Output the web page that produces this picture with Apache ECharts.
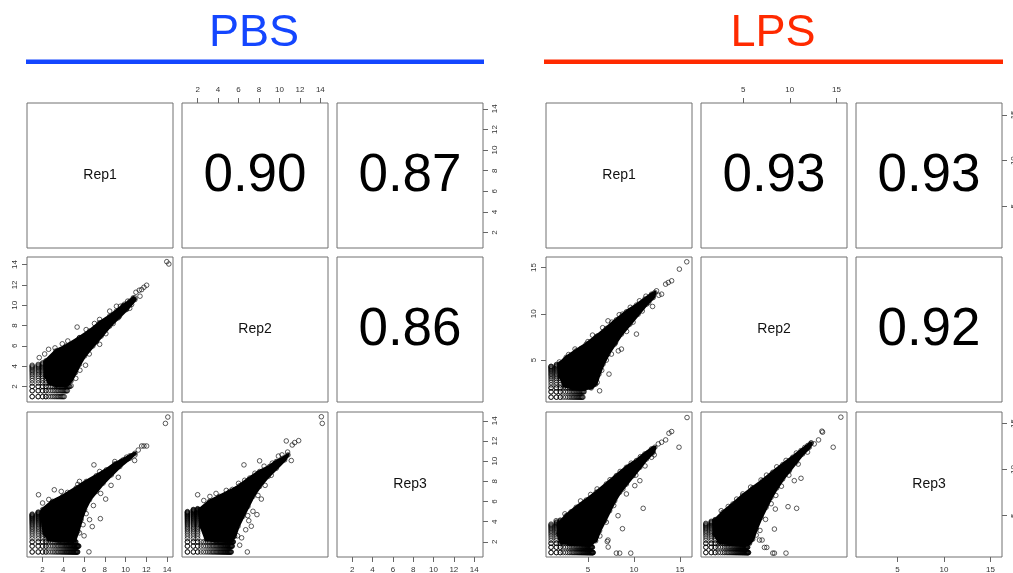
<!DOCTYPE html>
<html><head><meta charset="utf-8">
<script src="https://cdn.jsdelivr.net/npm/echarts@6/dist/echarts.min.js"></script>
<style>html,body{margin:0;padding:0;background:#fff}#c{width:1013px;height:573px}</style>
</head><body><div id="c"></div>
<script>
// ---------- data ----------
const replicateNames = ['Rep1', 'Rep2', 'Rep3'];
const groupNames = ['PBS', 'LPS'];
// correlations: (Rep1,Rep2), (Rep1,Rep3), (Rep2,Rep3)
const pbsCorrelations = [0.90, 0.87, 0.86];
const lpsCorrelations = [0.93, 0.93, 0.92];
// axis ranges of each replicate (Rep1, Rep2, Rep3)
const pbsAxisRanges = [[0.5, 14.57], [0.47, 14.75], [0.5, 14.87]];
const lpsAxisRanges = [[0.45, 16.3], [0.48, 16.13], [0.52, 16.25]];
const pbsTickLabels = [2, 4, 6, 8, 10, 12, 14];
const lpsTickLabels = [5, 10, 15];
// discrete low expression levels seen as lattice rows/columns
const countLevels = [1, 1.58, 2, 2.32, 2.58, 2.81, 3, 3.17, 3.32, 3.46, 3.58, 3.7, 3.81, 3.91, 4, 4.09, 4.17, 4.25, 4.32, 4.39, 4.46, 4.52, 4.58, 4.64, 4.7, 4.75, 4.81, 4.86, 4.91, 4.95, 5, 5.04, 5.09, 5.13, 5.17, 5.21, 5.25, 5.29, 5.32, 5.36, 5.39, 5.43, 5.46, 5.49, 5.52, 5.55, 5.58];

// PBS: Rep2 (y) vs Rep1 (x)
const pbsR2R1Core = [[2.32,4.52],[3.29,5.5],[4.27,5.99],[5.56,6.8],[6.53,7.46],[7.5,8.27],[8.47,8.93],[9.12,9.42],[9.77,9.97],[10.41,10.4],[10.74,10.73],[10.9,10.56],[10.09,9.58],[9.28,8.76],[8.47,7.95],[7.66,6.97],[6.85,5.99],[6.05,5.01],[5.56,4.19],[5.17,3.37],[4.75,2.56],[4.27,2.1],[3.29,2.1],[2.65,2.3],[2.32,3.05]];
const pbsR2R1Points = [[13.97,14.29],[14.17,14.06],[12.03,11.97],[11.77,11.77],[11.55,11.54],[11.32,11.48],[11.0,11.28],[11.39,10.89],[10.9,10.73],[10.58,10.07],[10.2,10.4],[9.9,10.1],[10.4,9.7],[9.5,9.9],[5.33,7.85],[7.5,6.15],[6.14,4.09],[4.75,2.07],[1.68,4.84],[2.58,5.66],[4.43,6.48],[5.56,6.8],[7.5,8.6],[8.47,9.42],[9.12,9.9],[3.2,5.8],[3.9,6.2],[6.2,7.6],[7.0,8.2],[8.8,8.2],[9.4,8.9],[8.1,7.2],[7.2,6.4],[6.5,5.2],[5.6,3.6],[5.2,2.8],[4.3,5.9],[2.2,5.2]];
const pbsR2R1LowCols = [[1, 4.09], [1.58, 4.17], [2, 4.32], [2.32, 4.46]];
const pbsR2R1LowRows = [[1, 4.09], [1.58, 4.39], [2, 4.64]];

// PBS: Rep3 (y) vs Rep1 (x)
const pbsR3R1Core = [[2.0,5.19],[2.97,6.01],[3.94,6.51],[5.24,7.33],[6.21,7.99],[7.18,8.55],[8.15,9.14],[8.96,9.73],[9.77,10.13],[10.41,10.52],[10.9,10.78],[10.41,10.29],[9.44,9.47],[8.63,8.64],[7.83,7.82],[7.18,7.0],[6.53,6.18],[6.05,5.19],[5.72,4.2],[5.4,3.05],[5.07,2.1],[4.59,2.1],[3.62,2.1],[2.65,2.2],[2.16,2.89],[2.0,4.2]];
const pbsR3R1Points = [[14.07,14.37],[13.84,13.74],[12.03,11.5],[11.77,11.5],[11.55,11.5],[11.22,11.1],[10.9,10.6],[10.87,10.06],[10.09,10.39],[8.96,9.96],[6.95,9.63],[8.08,6.24],[7.57,4.3],[6.79,3.51],[6.53,4.2],[6.47,1.01],[5.33,1.57],[5.1,1.57],[1.61,6.67],[3.13,7.16],[3.8,7.0],[4.4,6.9],[5.56,7.99],[5.4,7.7],[2.0,5.85],[2.6,6.2],[7.5,8.97],[9.6,10.0],[10.2,10.2],[5.56,2.89],[5.9,3.7],[6.2,4.8],[6.9,5.6],[7.6,6.8],[8.6,7.6],[9.3,8.4],[4.9,2.2],[6.0,2.6]];
const pbsR3R1LowCols = [[1, 4.75], [1.58, 4.95], [2, 5], [2.32, 5]];
const pbsR3R1LowRows = [[1, 5.39], [1.58, 5.49], [2, 5.21]];

// PBS: Rep3 (y) vs Rep2 (x)
const pbsR3R2Core = [[2.2,5.19],[3.17,6.01],[4.15,6.51],[5.13,7.0],[6.11,7.56],[7.09,8.32],[8.06,8.97],[9.04,9.47],[9.69,9.96],[10.35,10.29],[10.84,10.62],[10.51,10.13],[9.69,9.3],[8.88,8.48],[8.06,7.49],[7.41,6.51],[6.92,5.52],[6.43,4.53],[5.95,3.55],[5.62,2.56],[5.29,2.1],[4.8,2.1],[3.83,2.1],[2.85,2.23],[2.36,3.55]];
const pbsR3R2Points = [[14.1,14.4],[14.19,13.74],[11.88,12.03],[11.49,11.84],[11.25,11.6],[10.67,12.0],[11.16,10.06],[10.25,10.62],[10.8,10.9],[8.06,10.03],[6.53,9.63],[2.0,6.67],[8.23,6.24],[7.41,5.03],[7.8,4.7],[7.25,3.55],[6.9,4.6],[7.0,4.1],[6.7,3.2],[6.11,1.67],[6.86,1.0],[3.2,6.5],[3.8,6.8],[4.8,7.1],[5.4,7.2],[6.0,7.8],[6.6,8.1],[7.6,8.8],[8.5,9.5],[9.3,9.8],[9.9,10.5],[9.2,8.6],[8.6,7.6],[7.9,6.6],[2.6,6.1],[5.9,2.6],[6.3,2.4]];
const pbsR3R2LowCols = [[1, 5.0], [1.58, 5.21], [2, 5.29]];
const pbsR3R2LowRows = [[1, 5.29], [1.58, 5.39], [2, 5.49]];

// LPS: Rep2 (y) vs Rep1 (x)
const lpsR2R1Core = [[1.9,4.57],[2.64,5.29],[3.73,6.01],[4.82,6.73],[5.91,7.55],[7.0,8.42],[8.09,9.35],[9.18,10.22],[10.27,10.94],[11.18,11.58],[11.91,12.12],[12.27,12.3],[12.09,11.76],[11.36,11.04],[10.45,9.96],[9.55,8.88],[8.64,7.81],[7.91,6.73],[7.18,5.65],[6.64,4.57],[6.2,3.49],[5.84,2.41],[5.36,2.0],[4.45,2.0],[3.36,2.0],[2.45,2.23],[2.0,3.31]];
const lpsR2R1Points = [[15.73,15.61],[14.93,14.82],[14.09,13.56],[13.73,13.38],[13.44,13.2],[12.45,12.48],[12.09,11.94],[13.0,12.12],[12.7,12.0],[12.02,10.79],[10.27,7.81],[8.75,9.96],[7.18,9.24],[6.09,7.63],[4.27,6.26],[8.64,6.19],[8.3,6.0],[7.55,5.65],[7.29,3.49],[6.27,1.69],[1.0,4.32],[1.9,4.8],[2.9,5.6],[3.6,6.2],[5.0,7.0],[5.5,7.7],[6.6,8.5],[7.6,9.1],[8.4,9.9],[9.6,10.7],[10.6,11.4],[11.3,11.9],[11.6,11.2],[10.9,10.3],[9.9,9.1],[9.2,8.1],[8.0,6.9],[7.0,5.0],[6.5,3.9],[6.0,2.6]];
const lpsR2R1LowCols = [[1, 4.32], [1.58, 4.52], [2, 4.58]];
const lpsR2R1LowRows = [[1, 4.46], [1.58, 4.58], [2, 4.75]];

// LPS: Rep3 (y) vs Rep1 (x)
const lpsR3R1Core = [[1.8,4.09],[2.64,5.0],[3.73,5.91],[4.82,6.7],[5.91,7.54],[7.0,8.44],[8.09,9.35],[9.18,10.25],[10.27,10.98],[11.18,11.7],[11.91,12.25],[12.27,12.43],[12.09,11.88],[11.36,11.16],[10.64,10.25],[9.91,9.35],[9.18,8.44],[8.45,7.54],[7.91,6.63],[7.36,5.54],[6.82,4.46],[6.27,3.37],[5.84,2.28],[5.36,2.0],[4.45,2.0],[3.0,2.0],[2.09,2.1],[1.8,3.01]];
const lpsR3R1Points = [[15.76,15.65],[14.89,12.43],[14.09,14.13],[13.8,13.95],[13.44,13.22],[13.0,12.97],[12.64,12.79],[12.09,12.25],[11.91,11.34],[11.0,5.8],[8.75,3.59],[7.18,2.36],[7.1,2.2],[7.2,1.6],[8.09,0.94],[8.45,0.94],[9.65,0.94],[6.56,7.72],[3.18,5.43],[1.55,4.46],[10.64,8.8],[10.09,8.26],[9.18,7.36],[8.27,5.0],[2.5,5.2],[4.2,6.6],[5.3,7.3],[6.0,7.9],[7.4,8.9],[8.5,9.8],[9.7,10.7],[10.7,11.4],[11.5,11.8],[12.2,11.6],[11.2,10.4],[10.2,9.4],[8.8,7.9],[7.8,6.1],[7.0,4.3],[6.3,2.8]];
const lpsR3R1LowCols = [[1, 4.09], [1.58, 4.32], [2, 4.52]];
const lpsR3R1LowRows = [[1, 5.58], [1.58, 5.49], [2, 5.29]];

// LPS: Rep3 (y) vs Rep2 (x)
const lpsR3R2Core = [[1.94,4.46],[2.83,5.36],[3.9,6.27],[4.96,7.17],[6.03,8.01],[7.1,8.8],[8.17,9.71],[9.24,10.54],[10.31,11.34],[11.2,12.07],[11.91,12.61],[12.26,12.86],[12.09,12.43],[11.37,11.7],[10.66,10.8],[9.95,9.89],[9.24,8.99],[8.6,8.01],[7.99,6.99],[7.46,5.91],[6.92,4.82],[6.39,3.55],[6.03,2.46],[5.68,2.0],[4.96,2.0],[3.54,2.0],[2.47,2.1],[1.94,3.01]];
const lpsR3R2Points = [[15.47,15.69],[14.65,12.43],[13.51,14.06],[13.44,14.17],[13.08,13.22],[12.62,12.79],[12.3,12.9],[11.2,9.06],[10.48,8.8],[9.81,5.98],[10.73,5.8],[8.45,5.72],[8.35,3.55],[7.03,2.36],[6.75,2.36],[7.28,1.56],[7.53,1.56],[8.17,0.94],[8.35,0.94],[9.59,0.94],[6.92,8.88],[4.96,7.36],[2.65,5.54],[3.4,6.0],[4.3,6.8],[5.8,8.1],[7.5,9.4],[8.6,10.3],[9.6,11.0],[10.7,11.8],[11.6,12.4],[11.9,11.9],[10.9,10.6],[9.9,9.4],[9.1,8.2],[8.5,7.2],[8.0,6.3],[7.4,4.6],[6.8,3.4],[6.4,2.9]];
const lpsR3R2LowCols = [[1, 4.17], [1.58, 4.39], [2, 4.58]];
const lpsR3R2LowRows = [[1, 5.58], [1.58, 5.49], [2, 5.39]];

// ---------- layout / styles ----------
const FONT = 'Liberation Sans, Arial, Helvetica, sans-serif';
const groupStyles = {
  PBS: { color: '#1446ff', colLefts: [27, 182, 337], titleX: 254, lineX: [26, 484] },
  LPS: { color: '#ff2a00', colLefts: [546, 701, 856], titleX: 773, lineX: [544, 1003] }
};
const rowTops = [103, 257, 412];
const PW = 146, PH = 145;

const groupData = {
  PBS: {
    ranges: pbsAxisRanges, ticks: pbsTickLabels, corr: pbsCorrelations,
    scatter: {
      '1_0': { core: pbsR2R1Core, pts: pbsR2R1Points, cols: pbsR2R1LowCols, rows: pbsR2R1LowRows },
      '2_0': { core: pbsR3R1Core, pts: pbsR3R1Points, cols: pbsR3R1LowCols, rows: pbsR3R1LowRows },
      '2_1': { core: pbsR3R2Core, pts: pbsR3R2Points, cols: pbsR3R2LowCols, rows: pbsR3R2LowRows }
    }
  },
  LPS: {
    ranges: lpsAxisRanges, ticks: lpsTickLabels, corr: lpsCorrelations,
    scatter: {
      '1_0': { core: lpsR2R1Core, pts: lpsR2R1Points, cols: lpsR2R1LowCols, rows: lpsR2R1LowRows },
      '2_0': { core: lpsR3R1Core, pts: lpsR3R1Points, cols: lpsR3R1LowCols, rows: lpsR3R1LowRows },
      '2_1': { core: lpsR3R2Core, pts: lpsR3R2Points, cols: lpsR3R2LowCols, rows: lpsR3R2LowRows }
    }
  }
};

function lattice(cols, rows) {
  const pts = [];
  cols.forEach(([x, maxY]) => countLevels.forEach(y => { if (y <= maxY + 1e-9) pts.push([x, y]); }));
  rows.forEach(([y, maxX]) => countLevels.forEach(x => { if (x <= maxX + 1e-9) pts.push([x, y]); }));
  return pts;
}

const grids = [], xAxes = [], yAxes = [], series = [], graphics = [];
const tickColor = '#666', labelColor = '#333';

groupNames.forEach(g => {
  const st = groupStyles[g], gd = groupData[g];
  graphics.push({ type: 'text', x: st.titleX, y: 34, silent: true,
    style: { text: g, fill: st.color, font: '45px ' + FONT, textAlign: 'center', textVerticalAlign: 'middle' } });
  graphics.push({ type: 'rect', silent: true, shape: { x: st.lineX[0], y: 59.5, width: st.lineX[1] - st.lineX[0], height: 4.5 },
    style: { fill: st.color } });
  const corrIdx = { '0_1': 0, '0_2': 1, '1_2': 2 };
  for (let r = 0; r < 3; r++) {
    for (let c = 0; c < 3; c++) {
      const gi = grids.length;
      const left = st.colLefts[c], top = rowTops[r];
      grids.push({ left: left, top: top, width: PW, height: PH, show: true,
        containLabel: false, outerBoundsMode: 'none',
        borderColor: '#707070', borderWidth: 1, backgroundColor: 'transparent' });
      const showTop = (r === 0 && c === 1);
      const showBottom = (r === 2 && (c === 0 || c === 2));
      const showLeft = (c === 0 && r === 1);
      const showRight = (c === 2 && (r === 0 || r === 2));
      const axisCommon = (shown) => ({
        axisLine: { show: false },
        splitLine: { show: false },
        axisTick: { show: shown, length: 5, lineStyle: { color: tickColor, width: 1 }, customValues: gd.ticks },
        axisLabel: { show: shown, customValues: gd.ticks, fontSize: 8, color: labelColor, fontFamily: FONT, hideOverlap: false }
      });
      const xa = Object.assign({ type: 'value', gridIndex: gi, min: gd.ranges[c][0], max: gd.ranges[c][1],
        position: showTop ? 'top' : 'bottom' }, axisCommon(showTop || showBottom));
      xa.axisLabel.margin = 9;
      const ya = Object.assign({ type: 'value', gridIndex: gi, min: gd.ranges[r][0], max: gd.ranges[r][1],
        position: showRight ? 'right' : 'left' }, axisCommon(showLeft || showRight));
      ya.axisLabel.rotate = 90;
      ya.axisLabel.margin = 8;
      xAxes.push(xa); yAxes.push(ya);

      const cx = left + PW / 2, cy = top + PH / 2;
      if (r === c) {
        graphics.push({ type: 'text', x: cx, y: cy, silent: true,
          style: { text: replicateNames[r], fill: '#111', font: '14px ' + FONT, textAlign: 'center', textVerticalAlign: 'middle' } });
      } else if (c > r) {
        graphics.push({ type: 'text', x: cx, y: cy + 1, silent: true,
          style: { text: gd.corr[corrIdx[r + '_' + c]].toFixed(2), fill: '#000', font: '53px ' + FONT, textAlign: 'center', textVerticalAlign: 'middle' } });
      } else {
        const sd = gd.scatter[r + '_' + c];
        const poly = sd.core;
        series.push({
          type: 'custom', xAxisIndex: gi, yAxisIndex: gi, silent: true, z: 2,
          data: [poly[0]],
          renderItem: (params, api) => ({
            type: 'polygon',
            shape: { points: poly.map(p => api.coord(p)) },
            style: { fill: '#000', stroke: '#000', lineWidth: 3.5, lineJoin: 'round' }
          })
        });
        series.push({
          type: 'scatter', xAxisIndex: gi, yAxisIndex: gi, silent: true, z: 3,
          symbol: 'circle', symbolSize: 4.6,
          itemStyle: { color: 'rgba(255,255,255,0)', borderColor: '#000', borderWidth: 0.8 },
          data: lattice(sd.cols, sd.rows).concat(sd.pts, poly)
        });
      }
    }
  }
});

const chart = echarts.init(document.getElementById('c'), null, { renderer: 'canvas' });
chart.setOption({
  animation: false,
  backgroundColor: '#fff',
  grid: grids, xAxis: xAxes, yAxis: yAxes, series: series,
  graphic: { elements: graphics }
});
</script></body></html>
